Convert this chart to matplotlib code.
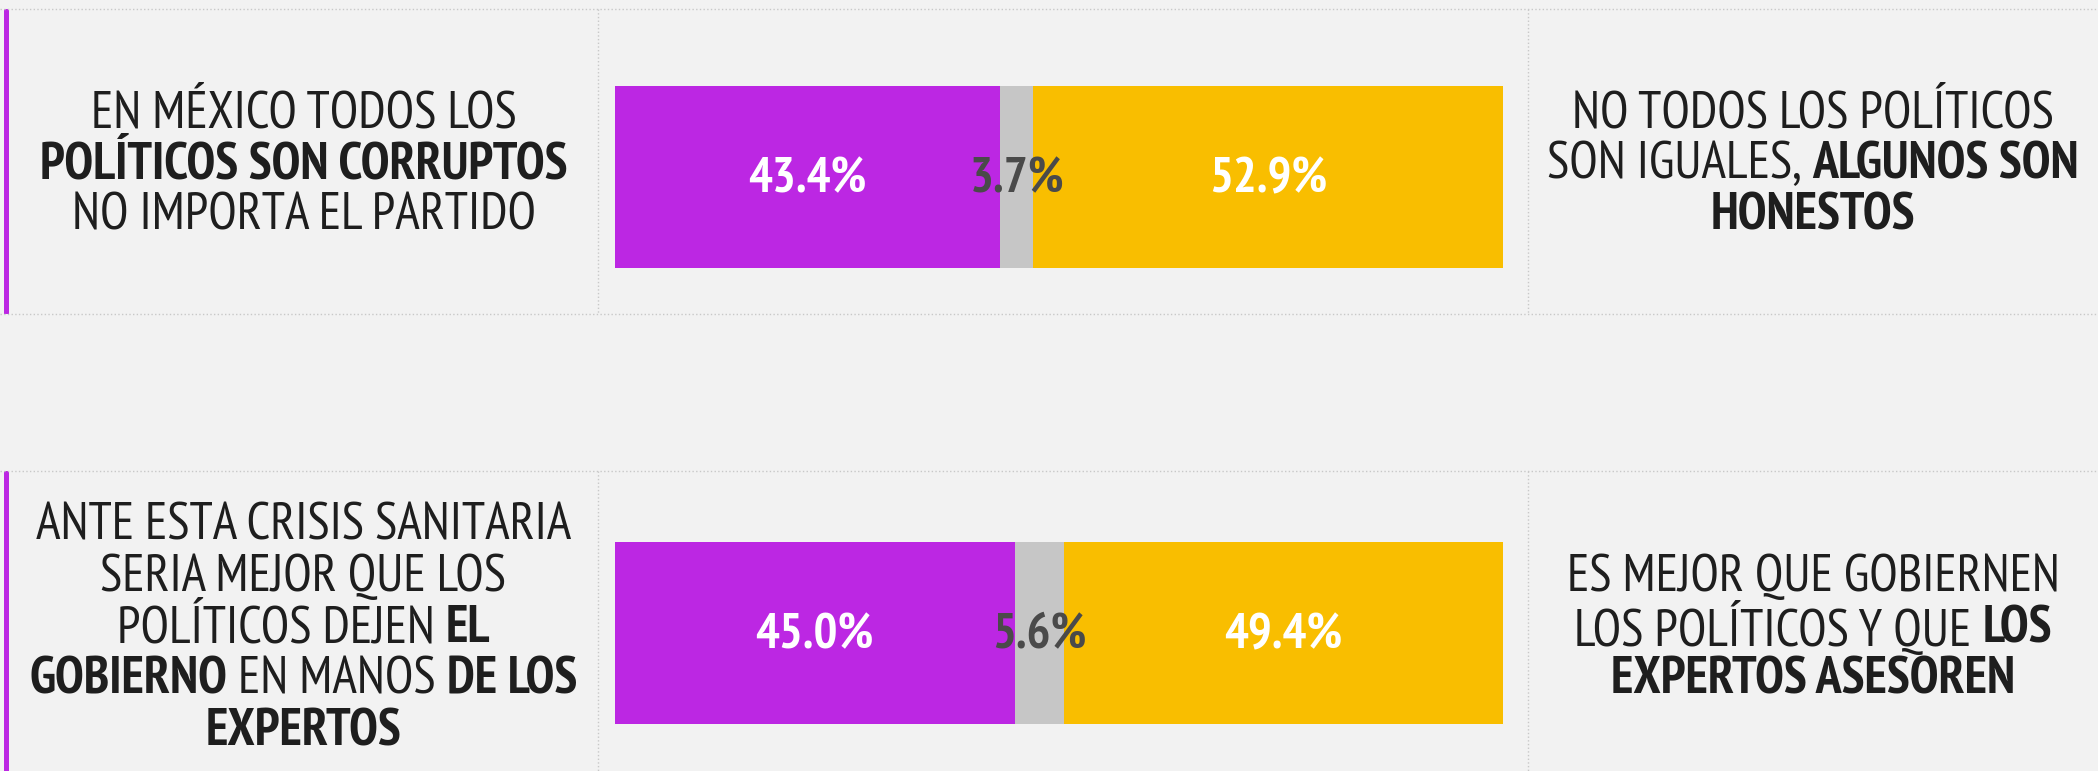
import matplotlib
matplotlib.use('Agg')
import matplotlib.pyplot as plt
from matplotlib import font_manager
from matplotlib.patches import Rectangle

# data
left_shares = [43.4, 45.0]
mid_shares = [3.7, 5.6]
right_shares = [52.9, 49.4]
left_texts = [
    [[('EN MÉXICO TODOS LOS', False)],
     [('POLÍTICOS SON CORRUPTOS', True)],
     [('NO IMPORTA EL PARTIDO', False)]],
    [[('ANTE ESTA CRISIS SANITARIA', False)],
     [('SERIA MEJOR QUE LOS', False)],
     [('POLÍTICOS DEJEN', False), ('EL', True)],
     [('GOBIERNO', True), ('EN MANOS', False), ('DE LOS', True)],
     [('EXPERTOS', True)]],
]
right_texts = [
    [[('NO TODOS LOS POLÍTICOS', False)],
     [('SON IGUALES,', False), ('ALGUNOS SON', True)],
     [('HONESTOS', True)]],
    [[('ES MEJOR QUE GOBIERNEN', False)],
     [('LOS POLÍTICOS Y QUE', False), ('LOS', True)],
     [('EXPERTOS ASESOREN', True)]],
]

W, H = 2098, 771
BG = '#f2f2f2'
PURPLE = '#bc27e3'
GRAY = '#c6c6c6'
YELLOW = '#f9be00'
TXT = '#1e1e1e'

# pick the narrowest family that is installed
installed = {f.name for f in font_manager.fontManager.ttflist}
main = 'Liberation Sans'
for cand in ['PT Sans Narrow', 'Liberation Sans Narrow', 'Roboto Condensed',
             'Open Sans Condensed', 'Arial Narrow', 'Liberation Sans']:
    if cand in installed:
        main = cand
        break
FAM = [main, 'DejaVu Sans']

fig = plt.figure(figsize=(W / 100, H / 100), dpi=100, facecolor=BG)
bg = fig.add_axes([0, 0, 1, 1])
bg.set_xlim(0, W)
bg.set_ylim(H, 0)
bg.axis('off')
bg.set_facecolor(BG)

row_top = [9, 471]
row_bot = [314, 776]
bar_top = [86, 542]
bar_h = 182
bar_x0, bar_w = 615, 888
sep_x = [598, 1528]

renderer = fig.canvas.get_renderer()


def text_width(s, bold, fs):
    t = bg.text(0, 0, s, fontsize=fs, family=FAM, fontweight='bold' if bold else 'normal')
    w = t.get_window_extent(renderer).width
    t.remove()
    return w


# size the type so that reference lines keep their width
FS = 30 * 528 / text_width('POLÍTICOS SON CORRUPTOS', True, 30)
PFS = 30 * 118 / text_width('43.4%', True, 30)
space_w = text_width('a a', False, FS) - text_width('aa', False, FS)


def rich_block(cx, cy, lines, lh=51.5):
    n = len(lines)
    y0 = cy - (n - 1) * lh / 2
    for i, segs in enumerate(lines):
        widths = [text_width(s, b, FS) for s, b in segs]
        total = sum(widths) + space_w * (len(segs) - 1)
        x = cx - total / 2
        for (s, b), w in zip(segs, widths):
            bg.text(x, y0 + i * lh, s, fontsize=FS, family=FAM, color=TXT,
                    fontweight='bold' if b else 'normal', ha='left', va='center')
            x += w + space_w


for r in range(2):
    t, b = row_top[r], row_bot[r]
    bg.plot([0, W], [t, t], ls=':', color='#c8c8c8', lw=1)
    bg.plot([0, W], [b, b], ls=':', color='#c8c8c8', lw=1)
    for sx in sep_x:
        bg.plot([sx, sx], [t, b], ls=':', color='#c8c8c8', lw=1)
    bg.add_patch(Rectangle((4, t), 5, b - t, color=PURPLE, lw=0))
    cy = (t + b) / 2 + (6 if r == 1 else 4)
    rich_block((9 + sep_x[0]) / 2, cy, left_texts[r])
    rich_block((sep_x[1] + W) / 2, cy, right_texts[r])

    ax = fig.add_axes([bar_x0 / W, 1 - (bar_top[r] + bar_h) / H, bar_w / W, bar_h / H])
    ax.set_xlim(0, 100)
    ax.set_ylim(-0.5, 0.5)
    ax.axis('off')
    vals = [left_shares[r], mid_shares[r], right_shares[r]]
    lefts = [0, vals[0], vals[0] + vals[1]]
    ax.barh([0, 0, 0], vals, left=lefts, height=1, color=[PURPLE, GRAY, YELLOW], lw=0)
    for v, l, c in zip(vals, lefts, ['white', '#4a4a4a', 'white']):
        ax.text(l + v / 2, -0.015, f'{v:.1f}%', ha='center', va='center', fontsize=PFS,
                family=FAM, fontweight='bold', color=c)

fig.savefig('out.png', dpi=100, facecolor=BG)
